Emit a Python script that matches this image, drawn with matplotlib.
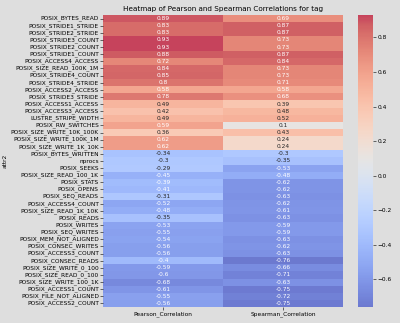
import matplotlib
matplotlib.use("Agg")
import matplotlib.pyplot as plt
import seaborn as sns
import pandas as pd
import numpy as np

attrs = ["POSIX_BYTES_READ", "POSIX_STRIDE1_STRIDE", "POSIX_STRIDE2_STRIDE", "POSIX_STRIDE3_COUNT",
         "POSIX_STRIDE2_COUNT", "POSIX_STRIDE1_COUNT", "POSIX_ACCESS4_ACCESS", "POSIX_SIZE_READ_100K_1M",
         "POSIX_STRIDE4_COUNT", "POSIX_STRIDE4_STRIDE", "POSIX_ACCESS2_ACCESS", "POSIX_STRIDE3_STRIDE",
         "POSIX_ACCESS1_ACCESS", "POSIX_ACCESS3_ACCESS", "LUSTRE_STRIPE_WIDTH", "POSIX_RW_SWITCHES",
         "POSIX_SIZE_WRITE_10K_100K", "POSIX_SIZE_WRITE_100K_1M", "POSIX_SIZE_WRITE_1K_10K",
         "POSIX_BYTES_WRITTEN", "nprocs", "POSIX_SEEKS", "POSIX_SIZE_READ_100_1K", "POSIX_STATS",
         "POSIX_OPENS", "POSIX_SEQ_READS", "POSIX_ACCESS4_COUNT", "POSIX_SIZE_READ_1K_10K", "POSIX_READS",
         "POSIX_WRITES", "POSIX_SEQ_WRITES", "POSIX_MEM_NOT_ALIGNED", "POSIX_CONSEC_WRITES",
         "POSIX_ACCESS3_COUNT", "POSIX_CONSEC_READS", "POSIX_SIZE_WRITE_0_100", "POSIX_SIZE_READ_0_100",
         "POSIX_SIZE_WRITE_100_1K", "POSIX_ACCESS1_COUNT", "POSIX_FILE_NOT_ALIGNED", "POSIX_ACCESS2_COUNT"]

pearson = [0.89, 0.83, 0.83, 0.93, 0.93, 0.88, 0.72, 0.84, 0.85, 0.8, 0.58, 0.78, 0.49, 0.42, 0.49,
           0.59, 0.36, 0.62, 0.62, -0.34, -0.3, -0.29, -0.45, -0.39, -0.41, -0.31, -0.52, -0.48, -0.35,
           -0.53, -0.55, -0.54, -0.56, -0.56, -0.4, -0.59, -0.6, -0.68, -0.61, -0.55, -0.56]
spearman = [0.69, 0.87, 0.87, 0.73, 0.73, 0.87, 0.84, 0.73, 0.73, 0.71, 0.58, 0.68, 0.39, 0.48, 0.52,
            0.1, 0.43, 0.24, 0.24, -0.3, -0.35, -0.53, -0.48, -0.62, -0.62, -0.63, -0.62, -0.61, -0.63,
            -0.59, -0.59, -0.63, -0.62, -0.63, -0.76, -0.66, -0.71, -0.63, -0.75, -0.72, -0.75]

df = pd.DataFrame({"Pearson_Correlation": pearson, "Spearman_Correlation": spearman},
                  index=pd.Index(attrs, name="attr2"))

bg = "#dedede"
fig = plt.figure(figsize=(4.0, 3.23), dpi=100, facecolor=bg)
ax = fig.add_axes([103/400, 1 - 307/323, 240/400, 292/323])
cax = fig.add_axes([358/400, 1 - 307/323, 15/400, 292/323])
sns.heatmap(df, ax=ax, cbar_ax=cax, cmap="coolwarm", annot=True, alpha=0.75,
            annot_kws={"fontsize": 4.2}, yticklabels=True)
ax.set_title("Heatmap of Pearson and Spearman Correlations for tag", fontsize=5.2, pad=3)
ax.tick_params(axis="both", labelsize=4.2, length=2, width=0.4, pad=1)
ax.tick_params(axis="x", labelrotation=0)
ax.set_ylabel("attr2", fontsize=4.2, labelpad=2)
ax.set_xlabel("")
cax.tick_params(labelsize=4.2, length=2, width=0.4, pad=1)
for s in cax.spines.values():
    s.set_visible(False)
fig.savefig("out.png", dpi=100, facecolor=bg)
